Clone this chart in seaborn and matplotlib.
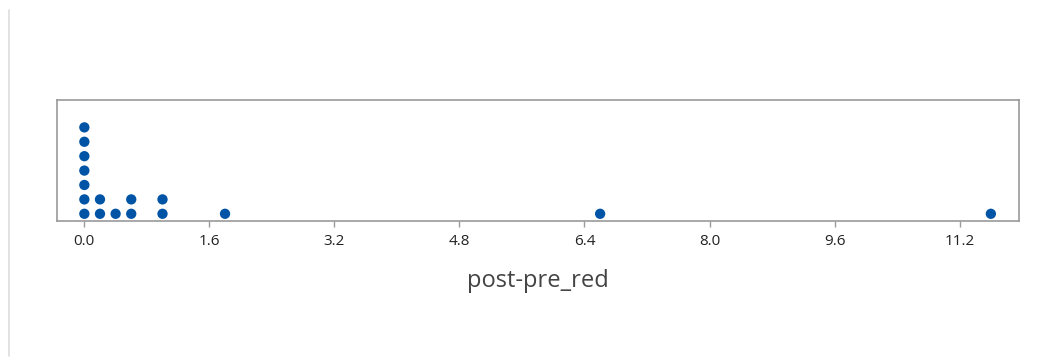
import numpy as np
import pandas as pd
import matplotlib
matplotlib.use("Agg")
import matplotlib.pyplot as plt
import seaborn as sns

# Observed differences (post - pre), one entry per observation, binned at 0.2
bin_values = [0.0, 0.2, 0.4, 0.6, 1.0, 1.8, 6.6, 11.6]
bin_counts = [7, 2, 1, 2, 2, 1, 1, 1]
tick_values = [0.0, 1.6, 3.2, 4.8, 6.4, 8.0, 9.6, 11.2]
tick_labels = ["0.0", "1.6", "3.2", "4.8", "6.4", "8.0", "9.6", "11.2"]
x_label = "post-pre_red"

values = np.repeat(bin_values, bin_counts)
df = pd.DataFrame({"post-pre_red": values})
# stack level of each dot within its bin
df["level"] = df.groupby("post-pre_red").cumcount()

sns.set_theme(style="white")
plt.rcParams["font.family"] = ["Open Sans", "DejaVu Sans"]

fig = plt.figure(figsize=(10.59, 3.62), dpi=100)
ax = fig.add_axes([57 / 1059, 1 - 221 / 362, (1019 - 57) / 1059, (221 - 100) / 362])

sns.scatterplot(data=df, x="post-pre_red", y="level", ax=ax,
                color="#0054a6", s=55, edgecolor="none", legend=False, zorder=3)

ax.set_xlim(-0.35, 11.96)
ax.set_ylim(-0.5, 7.9)
ax.set_yticks([])
ax.set_ylabel("")
ax.set_xticks(tick_values)
ax.set_xticklabels(tick_labels)
ax.tick_params(axis="x", direction="out", length=4, width=1, color="#9a9a9a",
               labelsize=11, labelcolor="#222222", pad=5, bottom=True)
ax.set_xlabel(x_label, fontsize=17, color="#444444", labelpad=15)
for sp in ax.spines.values():
    sp.set_visible(True)
    sp.set_color("#9a9a9a")
    sp.set_linewidth(1.2)

# thin vertical rule at the left edge of the panel
fig.add_artist(plt.Line2D([9 / 1059, 9 / 1059], [1 - 10 / 362, 1 - 356 / 362],
                          color="#dddddd", linewidth=1.2))

fig.savefig("out.png", dpi=100)
